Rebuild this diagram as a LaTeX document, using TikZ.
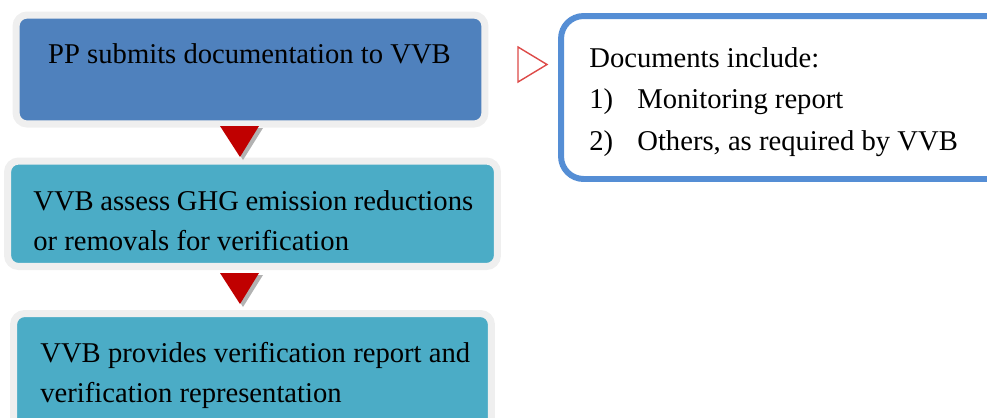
\documentclass[tikz,border=0pt]{standalone}
\usepackage{fontspec}
\setmainfont{Liberation Serif}
\usepackage{xcolor}
\usetikzlibrary{positioning}

\definecolor{stepblue}{HTML}{4F81BD}
\definecolor{stepteal}{HTML}{4BACC6}
\definecolor{halogray}{HTML}{EFEFEF}
\definecolor{arrowred}{HTML}{C00000}
\definecolor{pointred}{HTML}{DD4A48}
\definecolor{docblue}{HTML}{558ED5}

\begin{document}
\begin{tikzpicture}[x=0.02cm,y=-0.02cm,font=\fontsize{16.3}{22.8}\selectfont,
  stepbox/.style={draw=halogray, line width=4pt, rounded corners=0.22cm, inner sep=0pt},
  steptext/.style={inner sep=0pt, text=black}]

\clip (0,0) rectangle (987,417);

% =========================================================
% Steps
% =========================================================
\node[stepbox, fill=stepblue, minimum width=9.38cm, minimum height=2.18cm] (box1) at (250.5,69.5) {};
\node[stepbox, fill=stepteal, minimum width=9.8cm, minimum height=2.11cm] (box2) at (252.5,213.75) {};
\node[stepbox, fill=stepteal, minimum width=9.56cm, minimum height=2.53cm] (box3) at (252.5,376.75) {};

\node[steptext, anchor=base] (t1) at (249.5,63) {PP submits documentation to VVB};
\node[steptext, anchor=base west, text width=8.8cm, align=justify] (t2) at (33,210)
{VVB assess GHG emission reductions or removals for verification};
\node[steptext, anchor=base west, text width=8.6cm, align=justify] (t3) at (40,362)
{VVB provides verification report and verification representation};

% Down arrows
\foreach \yy in {126,273} {
  \fill[gray!60] (223,{\yy+2}) -- (263,{\yy+2}) -- (243,{\yy+34}) -- cycle;
  \fill[arrowred] (220,\yy) -- (259,\yy) -- (240,{\yy+31}) -- cycle;
}

% =========================================================
% Documents
% =========================================================
\draw[pointred, line width=0.8pt, fill=white] (518,47) -- (547,64.5) -- (518,82) -- cycle;

\node[draw=docblue, line width=3.4pt, rounded corners=0.45cm, minimum width=9cm, minimum height=3.26cm] (docs) at (786,97.5) {};

\node[steptext, anchor=base west] (d0) at (589,67) {Documents include:};
\foreach \i/\yy/\txt in {1/108/Monitoring report, 2/150/{Others, as required by VVB}} {
  \node[steptext, anchor=base west] (n\i) at (589,\yy) {\i)};
  \node[steptext, anchor=base west] (d\i) at (637,\yy) {\txt};
}

\end{tikzpicture}
\end{document}
